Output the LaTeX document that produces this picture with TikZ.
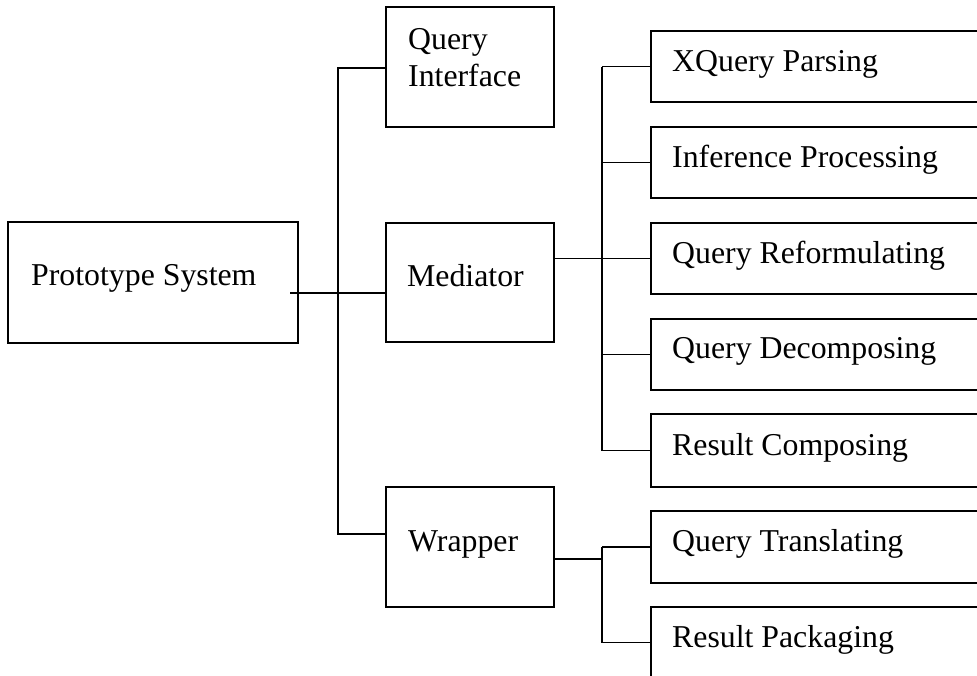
\documentclass[tikz,border=0pt]{standalone}
\usepackage{fontspec}
\setmainfont{Liberation Serif}
\usetikzlibrary{calc}
\begin{document}
\begin{tikzpicture}[x=1pt,y=-1pt,
  box/.style={draw=black, line width=1.5pt, rectangle, inner sep=0pt, outer sep=0pt, anchor=north west},
  leaf/.style={box, minimum width=360pt, minimum height=71pt},
  mid/.style={box, minimum width=168pt, minimum height=120pt},
  lbl/.style={anchor=base west, inner sep=0pt, font=\fontsize{31.8}{38}\selectfont},
  wire/.style={draw=black, line width=1.5pt}]
\useasboundingbox (0,0) rectangle (977,675);
\clip (0,0) rectangle (977,675);

% root
\node[box, minimum width=290pt, minimum height=121pt] (proto) at (8,222) {};
\node[lbl] (tproto) at (31,285) {Prototype System};

% second level
\node[mid] (qi)   at (386,7)   {};
\node[mid, minimum height=119pt] (med) at (386,223) {};
\node[mid] (wrap) at (386,487) {};
\node[lbl] (tqi1) at (408,49) {Query};
\node[lbl] (tqi2) at (408,86) {Interface};
\node[lbl] (tmed) at (407,286) {Mediator};
\node[lbl] (twrap) at (408,551) {Wrapper};

% leaves
\node[leaf] (xq)    at (651,31)  {};
\node[leaf] (inf)   at (651,127) {};
\node[leaf] (ref)   at (651,223) {};
\node[leaf] (dec)   at (651,319) {};
\node[leaf, minimum height=73pt] (comp) at (651,414) {};
\node[leaf, minimum height=72pt] (trans) at (651,511) {};
\node[leaf] (pack)  at (651,607) {};
\node[lbl] (txq)    at (672,71)  {XQuery Parsing};
\node[lbl] (tinf)   at (672,167) {Inference Processing};
\node[lbl] (tref)   at (672,263) {Query Reformulating};
\node[lbl] (tdec)   at (672,358) {Query Decomposing};
\node[lbl] (tcomp)  at (672,455) {Result Composing};
\node[lbl] (ttrans) at (672,551) {Query Translating};
\node[lbl] (tpack)  at (672,647) {Result Packaging};

% junction points
\coordinate (ps) at (290,293);
\coordinate (j1) at (338,68);
\coordinate (j2) at (338,534);
\coordinate (mx) at (602,0);
\coordinate (wj) at (602,559);

% root to second level
\draw[wire] (ps) -- (ps -| med.west);
\draw[wire] (qi.west |- j1) -- (j1) -- (j2) -- (wrap.west |- j2);

% mediator branches
\draw[wire] (med.east |- ref.west) -- (ref.west);
\draw[wire] (xq.west -| mx) -- (comp.west -| mx);
\draw[wire] (xq.west -| mx) -- (xq.west);
\draw[wire] (inf.west -| mx) -- (inf.west);
\draw[wire] (dec.west -| mx) -- (dec.west);
\draw[wire] (comp.west -| mx) -- (comp.west);

% wrapper branches
\draw[wire] (wj -| wrap.east) -- (wj);
\draw[wire] (trans.west -| mx) -- (pack.west -| mx);
\draw[wire] (trans.west -| mx) -- (trans.west);
\draw[wire] (pack.west -| mx) -- (pack.west);
\end{tikzpicture}
\end{document}
